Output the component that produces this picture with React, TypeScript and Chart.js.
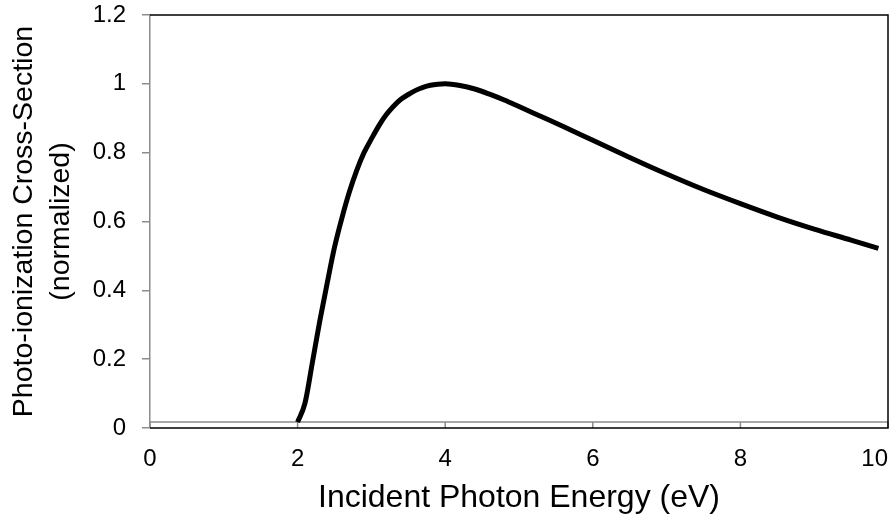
import { useEffect, useRef } from 'react';
import { Chart, registerables } from 'chart.js';

Chart.register(...registerables);

// Incident photon energy (eV) sampled along the curve
const energy = [
  2.0, 2.1, 2.2, 2.3, 2.4, 2.5, 2.6, 2.7, 2.8, 2.9, 3.0, 3.1, 3.2, 3.3, 3.4, 3.5, 3.6, 3.7, 3.8, 3.9,
  4.0, 4.2, 4.4, 4.6, 4.8, 5.0, 5.3, 5.6, 6.0, 6.5, 7.0, 7.5, 8.0, 8.5, 9.0, 9.5, 9.87,
];
// Normalized photo-ionization cross-section
const crossSection = [
  0.017, 0.072, 0.19, 0.31, 0.42, 0.525, 0.61, 0.685, 0.748, 0.8, 0.84, 0.878, 0.91, 0.935, 0.955, 0.969, 0.981, 0.99, 0.996, 0.999,
  1.0, 0.995, 0.985, 0.97, 0.953, 0.934, 0.905, 0.876, 0.836, 0.786, 0.738, 0.693, 0.652, 0.613, 0.578, 0.546, 0.522,
];

const xTitle = 'Incident Photon Energy (eV)';
const yTitle = ['Photo-ionization Cross-Section', '(normalized)'];

const X_MIN = 0;
const X_MAX = 10;
const X_STEP = 2;
const Y_MIN = 0;
const Y_MAX = 1.2;
const Y_STEP = 0.2;

const FONT = "'Liberation Sans', Arial, sans-serif";
const GRAY = '#8c8c8c';

export default function App() {
  const ref = useRef<HTMLCanvasElement>(null);

  useEffect(() => {
    if (!ref.current) return;

    const framePlugin = {
      id: 'excelFrame',
      beforeDatasetsDraw(chart: any) {
        const { ctx, chartArea: a, scales } = chart;
        const xs = scales.x;
        const axisY = a.bottom - 6;
        ctx.save();
        ctx.strokeStyle = GRAY;
        ctx.lineWidth = 1.5;
        ctx.beginPath();
        ctx.moveTo(a.left, axisY);
        ctx.lineTo(a.right, axisY);
        xs.ticks.forEach((t: any) => {
          const px = xs.getPixelForValue(t.value);
          ctx.moveTo(px, axisY);
          ctx.lineTo(px, a.bottom);
        });
        ctx.stroke();
        ctx.restore();
      },
      afterDatasetsDraw(chart: any) {
        const { ctx, chartArea: a } = chart;
        ctx.save();
        ctx.strokeStyle = '#000';
        ctx.lineWidth = 1.5;
        ctx.beginPath();
        ctx.moveTo(a.left, a.top);
        ctx.lineTo(a.right, a.top);
        ctx.lineTo(a.right, a.bottom);
        ctx.lineTo(a.left, a.bottom);
        ctx.stroke();
        ctx.restore();
      },
    };

    const chart = new Chart(ref.current, {
      type: 'line',
      data: {
        datasets: [
          {
            data: energy.map((e, i) => ({ x: e, y: crossSection[i] })),
            borderColor: '#000',
            borderWidth: 5,
            pointRadius: 0,
            fill: false,
            cubicInterpolationMode: 'monotone',
            borderCapStyle: 'butt',
            borderJoinStyle: 'round',
          },
        ],
      },
      options: {
        responsive: false,
        animation: false,
        layout: { padding: { top: 15, right: 8, left: 0, bottom: 0 } },
        plugins: { legend: { display: false }, tooltip: { enabled: false } },
        scales: {
          x: {
            type: 'linear',
            min: X_MIN,
            max: X_MAX,
            ticks: {
              stepSize: X_STEP,
              padding: 9,
              color: '#000',
              font: { family: FONT, size: 24 },
              callback: (v: any, i: number, ticks: any[]) =>
                i === ticks.length - 1 ? String(v) + '    ' : String(v),
            },
            grid: { display: false },
            border: { display: false },
            title: {
              display: true,
              text: xTitle,
              color: '#000',
              font: { family: FONT, size: 32 },
              padding: { top: 0, bottom: 3 },
            },
            afterFit(s: any) {
              s.height = 92;
              s.paddingLeft = 0;
              s.paddingRight = 0;
            },
          },
          y: {
            type: 'linear',
            min: Y_MIN,
            max: Y_MAX,
            ticks: {
              stepSize: Y_STEP,
              padding: 16,
              color: '#000',
              font: { family: FONT, size: 24 },
              callback: (v: any) => String(Math.round(Number(v) * 10) / 10),
            },
            grid: { drawOnChartArea: false, tickLength: 8, color: GRAY, lineWidth: 1.5 },
            border: { color: GRAY, width: 1.5 },
            title: {
              display: true,
              text: yTitle,
              color: '#000',
              font: { family: FONT, size: 28.5, lineHeight: 1.3 },
              padding: { top: 6, bottom: 0 },
            },
            afterFit(s: any) {
              s.width = 150;
              s.paddingTop = 0;
              s.paddingBottom = 0;
            },
          },
        },
      },
      plugins: [framePlugin],
    });

    return () => chart.destroy();
  }, []);

  return (
    <div style={{ position: 'absolute', left: 0, top: 0, width: 896, height: 520, background: '#fff' }}>
      <canvas ref={ref} width={896} height={520} style={{ display: 'block' }} />
    </div>
  );
}
